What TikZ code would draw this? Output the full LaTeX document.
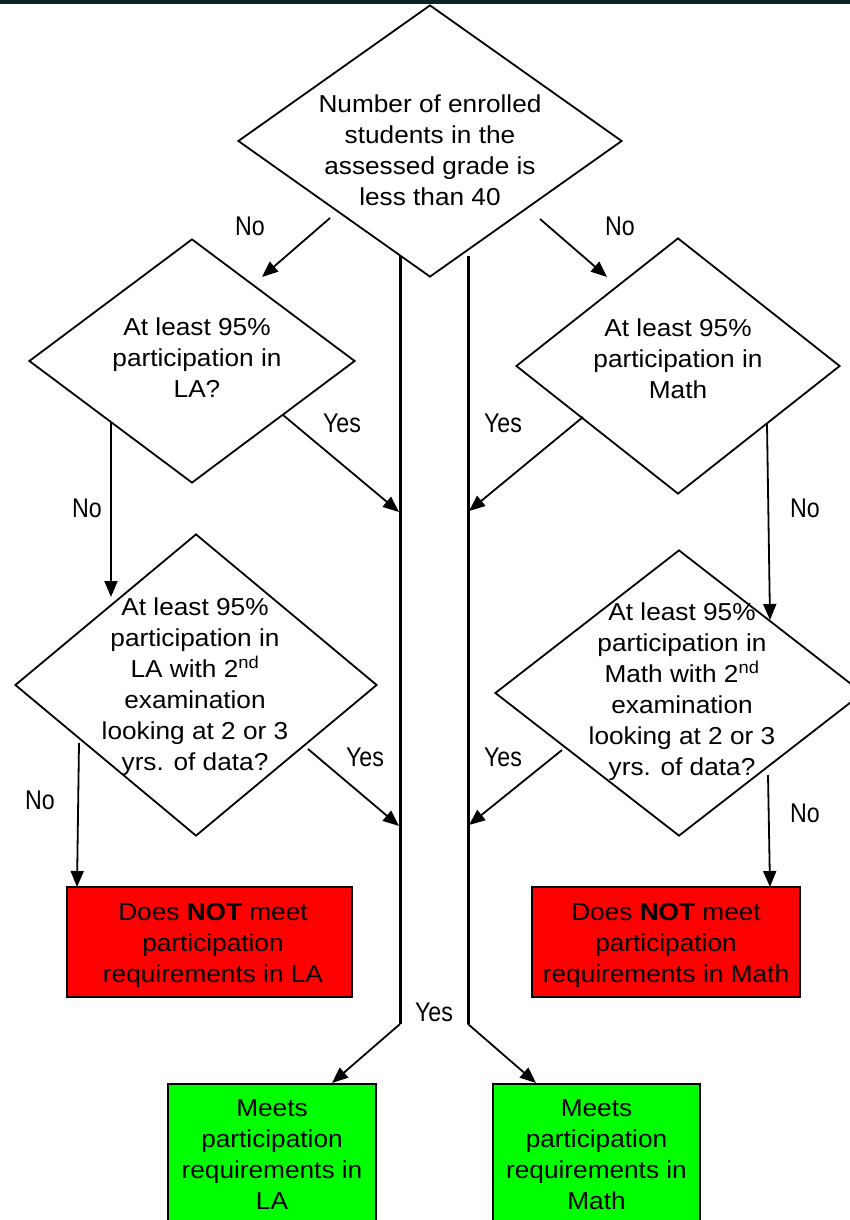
\documentclass[tikz,border=0pt]{standalone}
\usepackage{fontspec}
\setmainfont{Liberation Sans}[FakeStretch=1.07]
\newfontfamily\lblfont{Liberation Sans}[FakeStretch=0.86]
\usetikzlibrary{shapes.geometric,arrows.meta}
\definecolor{topline}{RGB}{12,36,36}
\definecolor{boxred}{RGB}{255,0,0}
\definecolor{boxgreen}{RGB}{0,255,0}
\begin{document}
\begin{tikzpicture}[x=1pt,y=-1pt,
  txt/.style={align=center, font=\fontsize{24.5}{31}\selectfont, inner sep=0pt},
  dia/.style={diamond, draw, line width=1.8pt, inner sep=0pt},
  lbl/.style={font=\lblfont\fontsize{27}{30}\selectfont, inner sep=0pt},
  arr/.style={line width=1.8pt, -{Triangle[length=16pt,width=13pt]}},
  mainline/.style={line width=3pt},
  redbox/.style={draw, line width=2.5pt, fill=boxred, minimum width=285pt, minimum height=110pt, inner sep=0pt},
  greenbox/.style={draw, line width=2.5pt, fill=boxgreen, minimum width=208pt, minimum height=160pt, inner sep=0pt}
]
\useasboundingbox (0,0) rectangle (850,1220);
\fill[white] (0,0) rectangle (850,1220);
\coordinate (tl) at (0,2);
\coordinate (tr) at (850,2);
\draw[topline, line width=3.4pt] (tl) -- (tr);

% diamonds
\node[dia, minimum width=384pt, minimum height=272pt] (d0) at (430,141) {};
\node[dia, minimum width=326pt, minimum height=244pt] (dla) at (192,361) {};
\node[dia, minimum width=324pt, minimum height=256pt] (dm) at (678,366) {};
\node[dia, minimum width=362pt, minimum height=302pt] (dla2) at (196,685) {};
\node[dia, minimum width=368pt, minimum height=286pt] (dm2) at (679,693) {};

% diamond texts
\node[txt] (t0) at (430,150) {Number of enrolled\\students in the\\assessed grade is\\less than 40};
\node[txt] (tla) at (197,358) {At least 95\%\\participation in\\LA?};
\node[txt] (tm) at (678,359) {At least 95\%\\participation in\\Math};
\node[txt] (tla2) at (195,687) {At least 95\%\\participation in\\LA with 2\textsuperscript{nd}\\examination\\looking at 2 or 3\\yrs. of data?};
\node[txt] (tm2) at (682,692) {At least 95\%\\participation in\\Math with 2\textsuperscript{nd}\\examination\\looking at 2 or 3\\yrs. of data?};

% boxes
\node[redbox] (rla) at (209.5,942) {};
\node[txt] (trla) at (213,945) {Does \textbf{NOT} meet\\participation\\requirements in LA};
\node[redbox, minimum width=268pt] (rm) at (666,942) {};
\node[txt] (trm) at (666,945) {Does \textbf{NOT} meet\\participation\\requirements in Math};
\node[greenbox] (gla) at (272,1164) {};
\node[txt, anchor=north] (tgla) at (272,1099) {Meets\\participation\\requirements in\\LA};
\node[greenbox, minimum width=207pt] (gm) at (596.5,1164) {};
\node[txt, anchor=north] (tgm) at (596.5,1099) {Meets\\participation\\requirements in\\Math};

% main vertical lines
\coordinate (ml0) at (400,256);
\coordinate (ml1) at (400,1024);
\coordinate (mr0) at (468,256);
\coordinate (mr1) at (468,1024);
\draw[mainline] (ml0) -- (ml1);
\draw[mainline] (mr0) -- (mr1);
\coordinate (gltip) at (332,1083);
\coordinate (gmtip) at (536,1083);
\draw[arr] (ml1) -- (gltip);
\draw[arr] (mr1) -- (gmtip);

% arrows
\coordinate (a1s) at (330,218); \coordinate (a1e) at (262,277);
\coordinate (a2s) at (540,219); \coordinate (a2e) at (607,277);
\coordinate (a3s) at (283,415); \coordinate (a3e) at (399,512);
\coordinate (a4s) at (583,417); \coordinate (a4e) at (469,511);
\coordinate (a5s) at (111,422); \coordinate (a5e) at (111,597);
\coordinate (a6s) at (767,424); \coordinate (a6e) at (770,620);
\coordinate (a7s) at (308,749); \coordinate (a7e) at (399,826);
\coordinate (a8s) at (562,750); \coordinate (a8e) at (469,825);
\coordinate (a9s) at (79,743);  \coordinate (a9e) at (77,887);
\coordinate (a10s) at (768,775); \coordinate (a10e) at (770,887);
\draw[arr] (a1s) -- (a1e);
\draw[arr] (a2s) -- (a2e);
\draw[arr] (a3s) -- (a3e);
\draw[arr] (a4s) -- (a4e);
\draw[arr] (a5s) -- (a5e);
\draw[arr] (a6s) -- (a6e);
\draw[arr] (a7s) -- (a7e);
\draw[arr] (a8s) -- (a8e);
\draw[arr] (a9s) -- (a9e);
\draw[arr] (a10s) -- (a10e);

% labels
\node[lbl] (l1) at (250,226) {No};
\node[lbl] (l2) at (620,226) {No};
\node[lbl] (l3) at (342,423) {Yes};
\node[lbl] (l4) at (503,423) {Yes};
\node[lbl] (l5) at (87,508) {No};
\node[lbl] (l6) at (805,508) {No};
\node[lbl] (l7) at (365,757) {Yes};
\node[lbl] (l8) at (503,757) {Yes};
\node[lbl] (l9) at (40,800) {No};
\node[lbl] (l10) at (805,813) {No};
\node[lbl] (l11) at (434,1012) {Yes};
\end{tikzpicture}
\end{document}
